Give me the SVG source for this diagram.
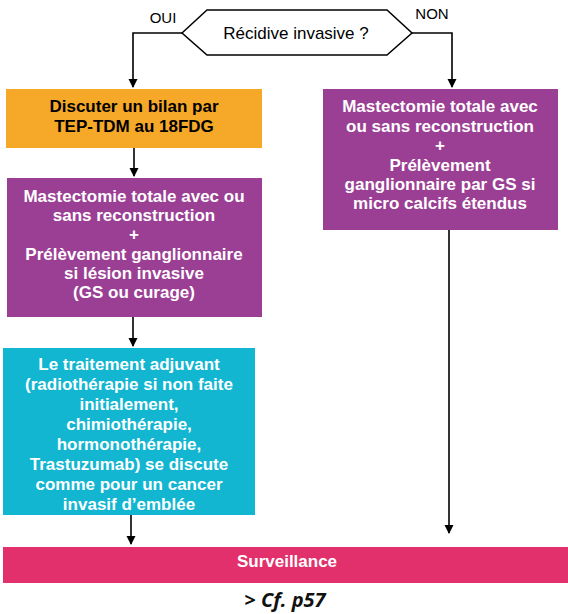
<svg xmlns="http://www.w3.org/2000/svg" width="568" height="614" viewBox="0 0 568 614">
<style>
.t{font-family:"Liberation Sans",Arial,sans-serif;font-size:17px;text-anchor:middle}
.b{font-weight:bold}
.w{fill:#ffffff}
.k{fill:#000000}
.c{fill:none;stroke:#000;stroke-width:1.6}
</style>
<defs>
<marker id="ah" markerWidth="10" markerHeight="10" refX="8" refY="5" orient="auto" markerUnits="userSpaceOnUse">
<path d="M0,0.5 L9,5 L0,9.5 Z" fill="#000"/>
</marker>
</defs>
<rect width="568" height="614" fill="#ffffff"/>
<g id="decision">
<polygon points="182,33 207,10 387,10 412,33 387,55 207,55" fill="#fff" stroke="#000" stroke-width="1.5"/>
<text class="t k" x="296" y="39">Récidive invasive ?</text>
</g>
<g id="connectors">
<path class="c" d="M182,33 H133 V87" marker-end="url(#ah)"/>
<path class="c" d="M412,33 H452 V87" marker-end="url(#ah)"/>
<path class="c" d="M134,148 V176" marker-end="url(#ah)"/>
<path class="c" d="M133,317 V346" marker-end="url(#ah)"/>
<path class="c" d="M131,515 V544" marker-end="url(#ah)"/>
<path class="c" d="M449,230 V533" marker-end="url(#ah)"/>
<text class="t k" x="163" y="23" style="font-size:15px">OUI</text>
<text class="t k" x="432" y="19" style="font-size:15px">NON</text>
</g>
<g id="tep">
<rect x="6" y="89" width="256" height="59" fill="#F6A828"/>
<text class="t b k" x="134" y="112">Discuter un bilan par</text>
<text class="t b k" x="134" y="132">TEP-TDM au 18FDG</text>
</g>
<g id="mastectomie-oui">
<rect x="7" y="178" width="255" height="139" fill="#9B3F95"/>
<text class="t b w" x="134" y="202">Mastectomie totale avec ou</text>
<text class="t b w" x="134" y="221">sans reconstruction</text>
<text class="t b w" x="134" y="240">+</text>
<text class="t b w" x="134" y="260">Prélèvement ganglionnaire</text>
<text class="t b w" x="134" y="279">si lésion invasive</text>
<text class="t b w" x="134" y="298">(GS ou curage)</text>
</g>
<g id="mastectomie-non">
<rect x="323" y="89" width="235" height="141" fill="#9B3F95"/>
<text class="t b w" x="440" y="112">Mastectomie totale avec</text>
<text class="t b w" x="440" y="132">ou sans reconstruction</text>
<text class="t b w" x="440" y="151">+</text>
<text class="t b w" x="440" y="171">Prélèvement</text>
<text class="t b w" x="440" y="190">ganglionnaire par GS si</text>
<text class="t b w" x="440" y="209">micro calcifs étendus</text>
</g>
<g id="adjuvant">
<rect x="3" y="348" width="252" height="167" fill="#13B6D1"/>
<text class="t b w" x="129" y="370">Le traitement adjuvant</text>
<text class="t b w" x="129" y="390">(radiothérapie si non faite</text>
<text class="t b w" x="129" y="410">initialement,</text>
<text class="t b w" x="129" y="430">chimiothérapie,</text>
<text class="t b w" x="129" y="450">hormonothérapie,</text>
<text class="t b w" x="129" y="470">Trastuzumab) se discute</text>
<text class="t b w" x="129" y="490">comme pour un cancer</text>
<text class="t b w" x="129" y="510">invasif d’emblée</text>
</g>
<g id="surveillance">
<rect x="3" y="547" width="565" height="36" fill="#E2306C"/>
<text class="t b w" x="287" y="567">Surveillance</text>
</g>
<text x="285" y="607" style="font-family:'Noto Sans','Open Sans',sans-serif;font-size:20px;font-weight:bold;font-style:italic;text-anchor:middle" fill="#111">&gt; Cf. p57</text>
</svg>
